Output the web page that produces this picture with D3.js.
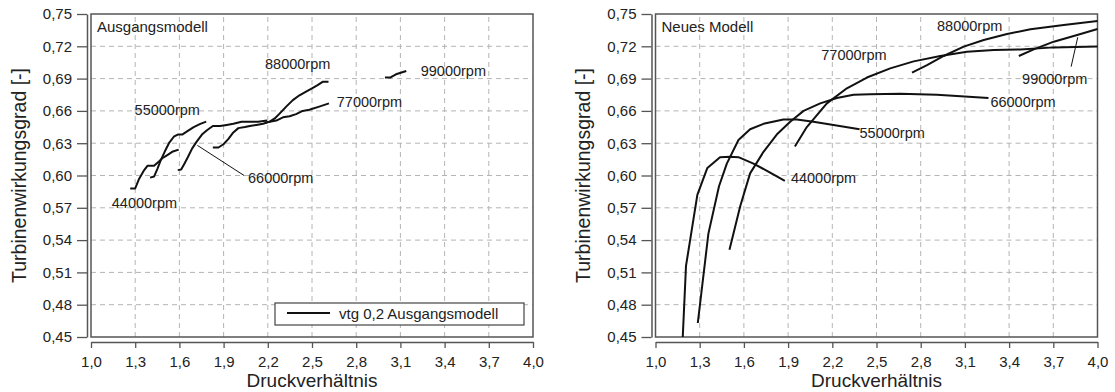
<!DOCTYPE html>
<html>
<head>
<meta charset="utf-8">
<script src="https://cdn.jsdelivr.net/npm/d3@7"></script>
<style>
  body { margin: 0; background: #fff; }
  svg { display: block; font-family: "Liberation Sans", Arial, sans-serif; }
</style>
</head>
<body>
<svg id="chart" width="1115" height="392"></svg>
<script>
// ticks
const xTicks = [1.0, 1.3, 1.6, 1.9, 2.2, 2.5, 2.8, 3.1, 3.4, 3.7, 4.0];
const yTicks = [0.45, 0.48, 0.51, 0.54, 0.57, 0.60, 0.63, 0.66, 0.69, 0.72, 0.75];

// Ausgangsmodell (left) - [Druckverhaeltnis, Wirkungsgrad]
const alt44000 = [[1.266, 0.588], [1.300, 0.588], [1.327, 0.597], [1.361, 0.605], [1.383, 0.609], [1.428, 0.609],
  [1.461, 0.613], [1.484, 0.616], [1.518, 0.619], [1.551, 0.622], [1.595, 0.624]];
const alt55000 = [[1.401, 0.598], [1.428, 0.599], [1.450, 0.606], [1.473, 0.614], [1.500, 0.622], [1.529, 0.630],
  [1.562, 0.636], [1.589, 0.638], [1.619, 0.638], [1.652, 0.641], [1.697, 0.645], [1.742, 0.648], [1.782, 0.650]];
const alt66000 = [[1.589, 0.605], [1.612, 0.6055], [1.634, 0.611], [1.657, 0.617], [1.686, 0.625], [1.715, 0.631],
  [1.753, 0.638], [1.787, 0.642], [1.827, 0.646], [1.876, 0.646], [1.921, 0.647], [1.966, 0.648], [2.022, 0.650],
  [2.078, 0.650], [2.134, 0.650], [2.195, 0.651]];
const alt77000 = [[1.827, 0.626], [1.865, 0.626], [1.899, 0.629], [1.933, 0.634], [1.966, 0.640], [2.000, 0.644],
  [2.045, 0.645], [2.078, 0.646], [2.123, 0.647], [2.168, 0.648], [2.213, 0.650], [2.258, 0.651], [2.303, 0.654],
  [2.348, 0.655], [2.392, 0.657], [2.437, 0.660], [2.482, 0.661], [2.549, 0.664], [2.615, 0.667]];
const alt88000 = [[2.179, 0.649], [2.213, 0.650], [2.247, 0.653], [2.280, 0.6575], [2.325, 0.664], [2.370, 0.670],
  [2.415, 0.6745], [2.460, 0.678], [2.500, 0.681], [2.538, 0.684], [2.572, 0.687], [2.612, 0.687]];
const alt99000 = [[2.995, 0.691], [3.030, 0.691], [3.070, 0.694], [3.140, 0.697]];

// Neues Modell (right)
const neu44000 = [[1.185, 0.450], [1.207, 0.516], [1.284, 0.582], [1.352, 0.607], [1.438, 0.617], [1.506, 0.6175],
  [1.563, 0.617], [1.665, 0.611], [1.775, 0.603], [1.878, 0.595]];
const neu55000 = [[1.287, 0.463], [1.359, 0.546], [1.431, 0.590], [1.484, 0.611], [1.563, 0.633], [1.642, 0.643],
  [1.733, 0.648], [1.868, 0.652], [1.959, 0.652], [2.072, 0.650], [2.208, 0.647], [2.385, 0.643]];
const neu66000 = [[1.502, 0.531], [1.574, 0.571], [1.642, 0.602], [1.733, 0.622], [1.823, 0.638], [1.914, 0.650],
  [2.005, 0.660], [2.118, 0.667], [2.231, 0.672], [2.344, 0.675], [2.457, 0.6754], [2.661, 0.676], [2.910, 0.675],
  [3.260, 0.672]];
const neu77000 = [[1.946, 0.627], [2.027, 0.645], [2.163, 0.667], [2.299, 0.681], [2.435, 0.691], [2.593, 0.6995],
  [2.752, 0.706], [2.933, 0.711], [3.114, 0.715], [3.296, 0.7166], [3.477, 0.717], [3.703, 0.719], [4.0, 0.7197]];
const neu88000 = [[2.741, 0.6955], [2.843, 0.7026], [2.956, 0.711], [3.092, 0.7197], [3.228, 0.7259], [3.386, 0.7314],
  [3.545, 0.7358], [3.771, 0.7398], [4.0, 0.7435]];
const neu99000 = [[3.466, 0.711], [3.567, 0.7172], [3.703, 0.7243], [3.862, 0.7305], [4.0, 0.7361]];

const speeds = ["44000rpm", "55000rpm", "66000rpm", "77000rpm", "88000rpm", "99000rpm"];

const comma = d3.formatLocale({decimal: ",", thousands: ".", grouping: [3], currency: ["", "€"]});
const fmtX = comma.format(".1f"), fmtY = comma.format(".2f");

const svg = d3.select("#chart");

function drawPanel(p) {
  const x = d3.scaleLinear().domain([1.0, 4.0]).range([p.left, p.left + 442]);
  const y = d3.scaleLinear().domain([0.45, 0.75]).range([337, 14]);
  const g = svg.append("g");

  // grid
  g.selectAll(".vg").data(xTicks.slice(1, -1)).enter().append("line")
    .attr("x1", d => x(d)).attr("x2", d => x(d)).attr("y1", y(0.45)).attr("y2", y(0.75))
    .attr("stroke", "#b4b4b4").attr("stroke-dasharray", "5,4");
  g.selectAll(".hg").data(yTicks.slice(1, -1)).enter().append("line")
    .attr("x1", x(1.0)).attr("x2", x(4.0)).attr("y1", d => y(d)).attr("y2", d => y(d))
    .attr("stroke", "#b4b4b4").attr("stroke-dasharray", "5,4");

  // frame
  g.append("rect").attr("x", x(1.0)).attr("y", y(0.75))
    .attr("width", x(4.0) - x(1.0)).attr("height", y(0.45) - y(0.75))
    .attr("fill", "none").attr("stroke", "#555").attr("stroke-width", 1.5);

  // axes
  const ax = g.append("g").attr("transform", "translate(0,342)")
    .call(d3.axisBottom(x).tickValues(xTicks).tickFormat(fmtX).tickSize(6).tickSizeOuter(0).tickPadding(8));
  const ay = g.append("g").attr("transform", `translate(${p.left - 4},0)`)
    .call(d3.axisLeft(y).tickValues(yTicks).tickFormat(fmtY).tickSize(10).tickSizeOuter(0).tickPadding(5));
  [ax, ay].forEach(a => {
    a.select(".domain").attr("stroke", "#555").attr("stroke-width", 1.5);
    a.selectAll(".tick line").attr("stroke", "#555").attr("stroke-width", 1.3);
    a.selectAll("text").attr("font-size", 15).attr("fill", "#222").attr("font-family", null);
  });

  // titles
  g.append("text").attr("x", (x(1.0) + x(4.0)) / 2).attr("y", 387).attr("text-anchor", "middle")
    .attr("font-size", 19).attr("fill", "#222").text("Druckverhältnis");
  g.append("text").attr("transform", `translate(${p.left - 72},${(y(0.45) + y(0.75)) / 2}) rotate(-90)`)
    .attr("text-anchor", "middle").attr("dy", "0.35em")
    .attr("font-size", 19.5).attr("fill", "#222").text("Turbinenwirkungsgrad [-]");
  g.append("text").attr("x", x(1.0) + 6).attr("y", 32).attr("font-size", 15).attr("fill", "#222").text(p.name);

  // curves
  const line = d3.line().x(d => x(d[0])).y(d => y(d[1]));
  g.selectAll(".curve").data(p.series).enter().append("path")
    .attr("d", line).attr("fill", "none").attr("stroke", "#111").attr("stroke-width", 2)
    .attr("stroke-linejoin", "round");

  // labels
  g.selectAll(".lbl").data(p.labels).enter().append("text")
    .attr("x", d => x(d[0])).attr("y", d => y(d[1]))
    .attr("font-size", 14.5).attr("fill", "#222").text((d, i) => speeds[i]);
  g.selectAll(".lead").data(p.leaders).enter().append("line")
    .attr("x1", d => x(d[0])).attr("y1", d => y(d[1])).attr("x2", d => x(d[2])).attr("y2", d => y(d[3]))
    .attr("stroke", "#111").attr("stroke-width", 1);

  return {x, y, g};
}

const left = drawPanel({
  left: 91, name: "Ausgangsmodell",
  series: [alt44000, alt55000, alt66000, alt77000, alt88000, alt99000],
  labels: [[1.141, 0.570], [1.296, 0.656], [2.066, 0.5933], [2.668, 0.6636], [2.181, 0.699], [3.238, 0.692]],
  leaders: [[1.722, 0.628, 2.039, 0.600]]
});

drawPanel({
  left: 655.5, name: "Neues Modell",
  series: [neu44000, neu55000, neu66000, neu77000, neu88000, neu99000],
  labels: [[1.919, 0.5928], [2.385, 0.6351], [3.273, 0.664], [2.125, 0.7073], [2.911, 0.7345], [3.488, 0.685]],
  leaders: [[3.866, 0.7284, 3.821, 0.7011]]
});

// legend (left panel)
const lg = left.g.append("g");
lg.append("rect").attr("x", 275).attr("y", 303).attr("width", 249).attr("height", 22)
  .attr("fill", "#fff").attr("stroke", "#444").attr("stroke-width", 1.2);
lg.append("line").attr("x1", 287).attr("x2", 330).attr("y1", 313).attr("y2", 313)
  .attr("stroke", "#111").attr("stroke-width", 2);
lg.append("text").attr("x", 339).attr("y", 319).attr("font-size", 15).attr("fill", "#222")
  .text("vtg 0,2 Ausgangsmodell");
</script>
</body>
</html>
